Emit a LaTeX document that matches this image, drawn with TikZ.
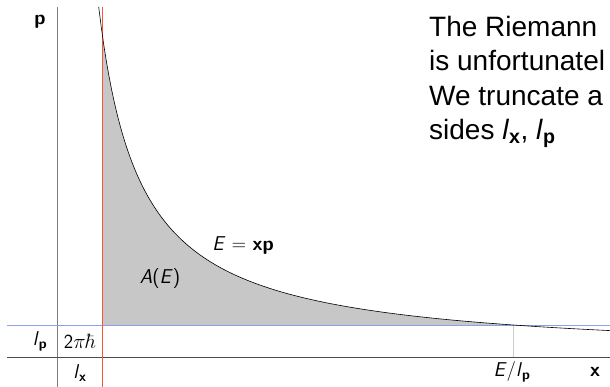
\documentclass[tikz,border=0pt]{standalone}
\usepackage{fontspec}
\newfontfamily\helv{Liberation Sans}
\usetikzlibrary{positioning}
\definecolor{cutred}{RGB}{250,85,60}
\definecolor{cutblue}{RGB}{140,160,235}

\begin{document}
\begin{tikzpicture}[x=1pt, y=1pt,
    axisline/.style={draw=black!50, line width=0.7pt},
    cutline/.style={line width=0.7pt},
    lbl/.style={font=\sffamily\fontsize{20}{24}\selectfont, inner sep=0pt}
]
    \def\E{14600}
    \useasboundingbox (-57,-30) rectangle (553,357);
    % area under the curve
    \fill[black!22] (45,32) -- plot[domain=45:456.25, samples=150] (\x,{\E/\x}) -- cycle;
    % axes
    \coordinate (ytop) at (0,350);
    \coordinate (ybot) at (0,-30);
    \coordinate (xleft) at (-50,0);
    \coordinate (xright) at (553,0);
    \draw[axisline] (ytop) -- (ybot);
    \draw[axisline, draw=black!70] (xleft) -- (xright);
    % cut lines
    \coordinate (rtop) at (45,350);
    \coordinate (rbot) at (45,-30);
    \coordinate (bleft) at (-50,32);
    \coordinate (bright) at (553,32);
    \coordinate (etop) at (456.25,32);
    \coordinate (ebot) at (456.25,0);
    \draw[cutline, draw=black!20] (etop) -- (ebot);
    \draw[cutline, draw=cutblue] (bleft) -- (bright);
    \draw[cutline, draw=cutred] (rtop) -- (rbot);
    % hyperbola
    \draw[line width=0.6pt] plot[domain=41.7:553, samples=200] (\x,{\E/\x});
    % labels
    \node[lbl] (plabel) at (-17,335) {\textbf{p}};
    \node[lbl] (xlabel) at (538,-15) {\textbf{x}};
    \node[lbl] (lp) at (-17,16) {\textit{l}\textsubscript{\textbf{p}}};
    \node[lbl] (hbar) at (23,16) {2$\pi\hbar$};
    \node[lbl] (lx) at (23,-16) {\textit{l}\textsubscript{\textbf{x}}};
    \node[lbl] (elp) at (455,-15) {\textit{E}/\textit{l}\textsubscript{\textbf{p}}};
    \node[lbl] (curve) at (186,111) {\textit{E} = \textbf{xp}};
    \node[lbl] (area) at (103,78) {\textit{A}(\textit{E})};
    % text
    \node[anchor=north west, inner sep=0pt, align=left,
          font=\helv\fontsize{28}{34.5}\selectfont] (note) at (372,341)
        {The Riemann\\is unfortunatel\\We truncate a\\sides \textit{l}\textsubscript{\textbf{x}}, \textit{l}\textsubscript{\textbf{p}}};
\end{tikzpicture}
\end{document}
